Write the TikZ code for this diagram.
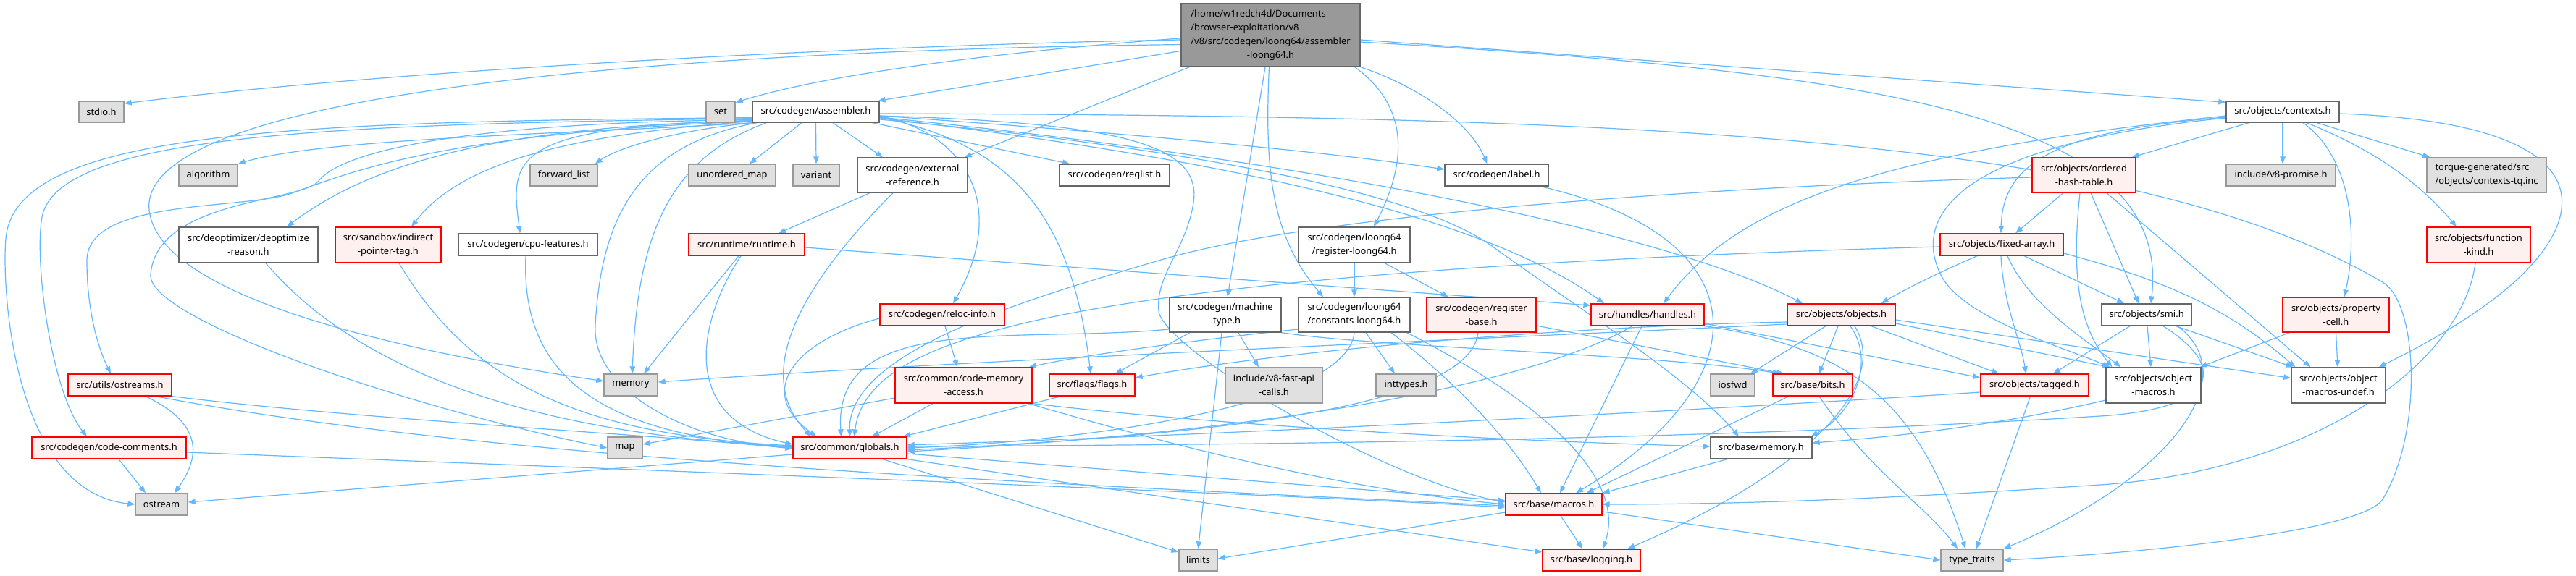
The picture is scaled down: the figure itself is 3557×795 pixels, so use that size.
\documentclass[tikz,border=0pt]{standalone}
\usepackage{fontspec}
\newfontfamily\nodefont{Noto Sans}
\usetikzlibrary{arrows.meta}
\pgfdeclarelayer{edgelayer}
\pgfsetlayers{edgelayer,main}
\definecolor{edgeblue}{HTML}{63B8FF}
\definecolor{wborder}{HTML}{666666}
\definecolor{rborder}{HTML}{FF0000}
\definecolor{rfill}{HTML}{FFF0F0}
\definecolor{gborder}{HTML}{999999}
\definecolor{gfill}{HTML}{E0E0E0}
\definecolor{tfill}{HTML}{999999}
\tikzset{
  box/.style={rectangle, inner sep=0pt, line width=1.3pt, align=center, font=\nodefont\fontsize{12.9}{19}\selectfont, text=black},
  wn/.style={box, draw=wborder, fill=white},
  rn/.style={box, draw=rborder, fill=rfill},
  gn/.style={box, draw=gborder, fill=gfill},
  tn/.style={box, draw=wborder, fill=tfill},
  dep/.style={draw=edgeblue, line width=1.2pt, -{Triangle[length=10pt,width=7.5pt]}},
}
\begin{document}
\begin{tikzpicture}[x=1pt,y=1pt]
\useasboundingbox (0,0) rectangle (3557,-795);
% nodes
\node[tn, minimum width=247, minimum height=87] (T) at (1754.5,-48.5) {\begin{tabular}{@{}l@{}}/home/w1redch4d/Documents\\/browser-exploitation/v8\\/v8/src/codegen/loong64/assembler\\\multicolumn{1}{@{}c@{}}{-loong64.h}\end{tabular}};
\node[gn, minimum width=62, minimum height=29] (stdio) at (140,-154.5) {stdio.h};
\node[gn, minimum width=40, minimum height=29] (set) at (995,-154.5) {set};
\node[wn, minimum width=175, minimum height=29] (asm) at (1126.5,-154.5) {src/codegen/assembler.h};
\node[wn, minimum width=156, minimum height=29] (contexts) at (3152,-154.5) {src/objects/contexts.h};
\node[gn, minimum width=81, minimum height=30] (algorithm) at (287.5,-242) {algorithm};
\node[gn, minimum width=93, minimum height=30] (fwdlist) at (778.5,-242) {forward\_list};
\node[gn, minimum width=120, minimum height=30] (umap) at (1011,-242) {unordered\_map};
\node[gn, minimum width=64, minimum height=30] (variant) at (1127,-242) {variant};
\node[wn, minimum width=152, minimum height=48] (extref) at (1260,-242) {src/codegen/external\\-reference.h};
\node[wn, minimum width=152, minimum height=30] (reglist) at (1539,-242) {src/codegen/reglist.h};
\node[wn, minimum width=143, minimum height=30] (label) at (2066.5,-242) {src/codegen/label.h};
\node[rn, minimum width=143, minimum height=48] (ordered) at (2877.5,-242) {src/objects/ordered\\-hash-table.h};
\node[gn, minimum width=151, minimum height=30] (promise) at (3149.5,-242) {include/v8-promise.h};
\node[gn, minimum width=165, minimum height=48, align=left] (torque) at (3433.5,-242) {torque-generated/src\\/objects/contexts-tq.inc};
\node[wn, minimum width=192, minimum height=49] (deopt) at (343,-338.5) {src/deoptimizer/deoptimize\\-reason.h};
\node[rn, minimum width=146, minimum height=49] (indirect) at (536,-338.5) {src/sandbox/indirect\\-pointer-tag.h};
\node[wn, minimum width=192, minimum height=30] (cpu) at (729,-338) {src/codegen/cpu-features.h};
\node[rn, minimum width=160, minimum height=30] (runtime) at (1031,-338) {src/runtime/runtime.h};
\node[wn, minimum width=154, minimum height=49] (regloong) at (1870,-338.5) {src/codegen/loong64\\/register-loong64.h};
\node[rn, minimum width=170, minimum height=30] (fixedarr) at (2764,-338) {src/objects/fixed-array.h};
\node[rn, minimum width=143, minimum height=49] (funckind) at (3422.5,-338.5) {src/objects/function\\-kind.h};
\node[rn, minimum width=172, minimum height=30] (reloc) at (1301,-435) {src/codegen/reloc-info.h};
\node[wn, minimum width=154, minimum height=48] (machtype) at (1692,-435) {src/codegen/machine\\-type.h};
\node[wn, minimum width=154, minimum height=48] (constloong) at (1870,-435) {src/codegen/loong64\\/constants-loong64.h};
\node[rn, minimum width=151, minimum height=48] (regbase) at (2045.5,-435) {src/codegen/register\\-base.h};
\node[rn, minimum width=156, minimum height=30] (handles) at (2275,-435) {src/handles/handles.h};
\node[rn, minimum width=149, minimum height=30] (objects) at (2542.5,-435) {src/objects/objects.h};
\node[wn, minimum width=124, minimum height=30] (smi) at (2964,-435) {src/objects/smi.h};
\node[rn, minimum width=147, minimum height=48] (propcell) at (3225.5,-435) {src/objects/property\\-cell.h};
\node[rn, minimum width=143, minimum height=30] (ostreams) at (165.5,-532) {src/utils/ostreams.h};
\node[gn, minimum width=74, minimum height=30] (memory) at (871,-532) {memory};
\node[rn, minimum width=189, minimum height=49] (cma) at (1330.5,-532.5) {src/common/code-memory\\-access.h};
\node[rn, minimum width=118, minimum height=30] (flags) at (1508,-532) {src/flags/flags.h};
\node[gn, minimum width=134, minimum height=49] (fastapi) at (1759,-532.5) {include/v8-fast-api\\-calls.h};
\node[gn, minimum width=83, minimum height=30] (inttypes) at (1941.5,-532) {inttypes.h};
\node[gn, minimum width=61, minimum height=30] (iosfwd) at (2392.5,-532) {iosfwd};
\node[rn, minimum width=110, minimum height=30] (bits) at (2503,-532) {src/base/bits.h};
\node[rn, minimum width=149, minimum height=30] (tagged) at (2809.5,-532) {src/objects/tagged.h};
\node[wn, minimum width=131, minimum height=49] (objmacros) at (2973.5,-532.5) {src/objects/object\\-macros.h};
\node[wn, minimum width=130, minimum height=49] (objundef) at (3229,-532.5) {src/objects/object\\-macros-undef.h};
\node[rn, minimum width=213, minimum height=30] (codecomm) at (150.5,-619) {src/codegen/code-comments.h};
\node[gn, minimum width=48, minimum height=30] (map) at (863,-619) {map};
\node[rn, minimum width=157, minimum height=30] (globals) at (1173.5,-619) {src/common/globals.h};
\node[wn, minimum width=140, minimum height=30] (basemem) at (2432,-619) {src/base/memory.h};
\node[gn, minimum width=72, minimum height=30] (ostream) at (223,-697) {ostream};
\node[rn, minimum width=133, minimum height=30] (macros) at (2145.5,-697) {src/base/macros.h};
\node[gn, minimum width=53, minimum height=30] (limits) at (1654.5,-774) {limits};
\node[rn, minimum width=135, minimum height=30] (logging) at (2197.5,-774) {src/base/logging.h};
\node[gn, minimum width=86, minimum height=30] (typetraits) at (2723,-774) {type\_traits};
\begin{pgfonlayer}{edgelayer}
\fill[white] (0,0) rectangle (3557,-795);
% T edges
\draw[dep] (T.183) .. controls (1300,-60) and (600,-90) .. (stdio.20);
\draw[dep] (T.182) .. controls (1400,-70) and (1150,-100) .. (set.32);
\draw[dep] (T.190) -- (asm.10);
\draw[dep] (T.186) .. controls (900,-70) and (190,-130) .. (206,-290) .. controls (216,-390) and (450,-470) .. (memory.172);
\draw[dep] ([xshift=12]T.south west) -- ([xshift=-5]extref.north east);
\draw[dep] ([xshift=-7.5]T.south) -- ([xshift=3]machtype.north);
\draw[dep] ([xshift=-2]T.south) .. controls (1745,-250) and (1760,-330) .. ([xshift=-43]constloong.north);
\draw[dep] ([xshift=-8]T.south east) .. controls (1950,-150) and (1940,-230) .. ([xshift=27]regloong.north);
\draw[dep] (T.south east) .. controls (1960,-120) and (2030,-170) .. ([xshift=-13]label.north);
\draw[dep] ([yshift=-6.5]T.east) -- ([yshift=-2]contexts.north west);
\draw[dep] ([yshift=-9.5]T.east) .. controls (2600,-100) and (3000,-160) .. ([xshift=6]smi.north);
% assembler.h edges
\draw[dep] (asm.south west) .. controls (800,-185) and (450,-190) .. (algorithm.north east);
\draw[dep] ([xshift=2]asm.south west) .. controls (950,-178) and (860,-200) .. ([xshift=-4]fwdlist.north east);
\draw[dep] ([xshift=-19.5]asm.south) -- ([xshift=24]umap.north);
\draw[dep] (asm.south) -- (variant.north);
\draw[dep] ([xshift=23.5]asm.south) -- ([xshift=-41]extref.north);
\draw[dep] ([xshift=-10]asm.south east) -- ([xshift=-62]reglist.north);
\draw[dep] ([yshift=-5.5]asm.east) .. controls (1500,-180) and (1800,-205) .. ([yshift=8]label.west);
\draw[dep] ([yshift=3]asm.south west) .. controls (700,-175) and (705,-220) .. ([xshift=-11]cpu.north);
\draw[dep] ([yshift=2]asm.south west) .. controls (800,-185) and (640,-220) .. ([xshift=32]indirect.north);
\draw[dep] ([yshift=3]asm.south west) .. controls (700,-175) and (520,-220) .. ([xshift=53]deopt.north);
\draw[dep] ([yshift=2]asm.south west) .. controls (600,-185) and (480,-240) .. (400,-268) .. controls (330,-290) and (120,-275) .. (120,-360) .. controls (120,-440) and (140,-490) .. ([xshift=-12.5]ostreams.north);
\draw[dep] ([yshift=4]asm.south west) .. controls (700,-168) and (480,-200) .. (440,-250) .. controls (416,-280) and (215,-275) .. (208,-380) .. controls (204,-440) and (550,-560) .. (map.west);
\draw[dep] ([yshift=6]asm.south west) .. controls (500,-172) and (80,-180) .. (58,-300) .. controls (47,-360) and (70,-540) .. ([xshift=-30.5]codecomm.north);
\draw[dep] ([yshift=7]asm.south west) .. controls (400,-168) and (20,-180) .. (8,-330) .. controls (2,-405) and (20,-680) .. (ostream.west);
\draw[dep] ([xshift=20]asm.south west) .. controls (920,-220) and (880,-330) .. ([xshift=2]memory.north);
\draw[dep] ([xshift=7]asm.south west) .. controls (880,-200) and (830,-300) .. (822,-450) .. controls (817,-540) and (950,-610) .. (globals.west);
\draw[dep] ([yshift=-6]asm.east) .. controls (1340,-185) and (1390,-290) .. ([xshift=15]reloc.north);
\draw[dep] ([yshift=-7.5]asm.east) .. controls (1400,-200) and (1480,-300) .. ([xshift=-2]flags.north);
\draw[dep] ([yshift=-8.5]asm.east) .. controls (1700,-220) and (2050,-300) .. ([xshift=-60]handles.north);
\draw[dep] ([yshift=-7.5]asm.east) .. controls (1800,-220) and (2300,-320) .. ([xshift=-53.5]objects.north);
\draw[dep] ([yshift=-5.5]asm.east) .. controls (1550,-170) and (1660,-200) .. (1648,-280) .. controls (1638,-345) and (1595,-380) .. (1600,-430) .. controls (1605,-480) and (1900,-660) .. ([yshift=3]macros.west);
\draw[dep] ([yshift=-10.5]asm.east) .. controls (1600,-200) and (1950,-260) .. (2060,-340) .. controls (2170,-420) and (2330,-520) .. ([xshift=-31]basemem.north);
\draw[dep] ([yshift=-2.5]asm.east) .. controls (2300,-160) and (2950,-190) .. (3290,-390) .. controls (3340,-420) and (3345,-600) .. (3290,-690) .. controls (3262,-735) and (2950,-765) .. (typetraits.east);
% external-reference
\draw[dep] ([xshift=-59]extref.south) -- ([xshift=44]runtime.north);
\draw[dep] ([xshift=-27]extref.south) .. controls (1100,-400) and (1040,-520) .. ([xshift=-53.5]globals.north);
% runtime
\draw[dep] ([xshift=-11]runtime.south) -- ([xshift=18]memory.north);
\draw[dep] ([xshift=-8]runtime.south) .. controls (960,-450) and (940,-580) .. ([yshift=5]globals.west);
\draw[dep] ([yshift=-4]runtime.east) -- ([yshift=13]handles.west);
% deopt, indirect, cpu
\draw[dep] ([xshift=24]deopt.south) .. controls (500,-520) and (750,-600) .. ([yshift=2]globals.west);
\draw[dep] ([xshift=15]indirect.south) .. controls (650,-530) and (800,-600) .. ([yshift=3]globals.west);
\draw[dep] ([xshift=-3]cpu.south) .. controls (720,-500) and (800,-600) .. ([yshift=1]globals.west);
% ostreams
\draw[dep] ([xshift=35.5]ostreams.south) .. controls (290,-590) and (270,-640) .. ([xshift=18]ostream.north);
\draw[dep] (ostreams.south east) .. controls (500,-580) and (900,-600) .. ([yshift=-1]globals.west);
\draw[dep] ([xshift=49.5]ostreams.south) .. controls (700,-640) and (1500,-670) .. ([yshift=-2]macros.west);
% code-comments
\draw[dep] ([xshift=13.5]codecomm.south) -- ([xshift=-22]ostream.north);
\draw[dep] ([yshift=-6]codecomm.east) .. controls (900,-650) and (1700,-680) .. ([yshift=-4]macros.west);
% reloc-info
\draw[dep] ([xshift=4]reloc.south) -- ([xshift=-8.5]cma.north);
\draw[dep] ([yshift=-5]reloc.west) .. controls (1100,-470) and (1040,-540) .. ([xshift=-46]globals.north);
% code-memory-access
\draw[dep] ([yshift=-17.5]cma.west) -- ([yshift=5]map.east);
\draw[dep] ([xshift=-42.5]cma.south) -- ([xshift=30.5]globals.north);
\draw[dep] (cma.south east) .. controls (1700,-590) and (2100,-610) .. ([yshift=2]basemem.west);
\draw[dep] ([xshift=-5]cma.south east) .. controls (1700,-640) and (1900,-680) .. (macros.west);
% flags
\draw[dep] ([xshift=-43]flags.south) -- ([xshift=73.5]globals.north);
% machine-type
\draw[dep] ([xshift=-49]machtype.south) -- ([xshift=32]flags.north);
\draw[dep] ([xshift=-5]machtype.south) -- (limits.north);
\draw[dep] ([xshift=18]machtype.south) -- ([xshift=-21]fastapi.north);
\draw[dep] ([yshift=-20]machtype.west) .. controls (1400,-475) and (1150,-430) .. ([xshift=-12]globals.north);
\draw[dep] (machtype.south east) .. controls (1900,-480) and (2300,-490) .. ([xshift=-45]bits.north);
% constants-loong64
\draw[dep] ([xshift=16]constloong.south) -- ([xshift=-15.5]inttypes.north);
\draw[dep] ([xshift=51]constloong.south) .. controls (2000,-520) and (2080,-600) .. ([xshift=-17.5]macros.north);
\draw[dep] ([xshift=-5]constloong.south east) .. controls (2100,-540) and (2250,-650) .. ([xshift=16]logging.north);
\draw[dep] (constloong.south) .. controls (1860,-560) and (1500,-610) .. (globals.east);
\draw[dep] ([yshift=-20]constloong.west) .. controls (1650,-470) and (1500,-490) .. ([xshift=-5]cma.north east);
% register-loong64
\draw[dep] (regloong.south) -- (constloong.north);
\draw[dep] ([xshift=42]regloong.south) -- ([xshift=-45.5]regbase.north);
% register-base
\draw[dep] ([yshift=-15]regbase.east) -- ([xshift=-40]bits.north);
\draw[dep] ([xshift=-4.5]regbase.south) .. controls (2030,-560) and (1700,-600) .. ([yshift=-3]globals.east);
% label
\draw[dep] ([xshift=-11.5]label.south east) .. controls (2440,-330) and (2430,-530) .. ([xshift=30.5]macros.north);
% handles
\draw[dep] ([xshift=-8]handles.south) -- ([xshift=8.5]macros.north);
\draw[dep] ([xshift=-21]handles.south) .. controls (2100,-540) and (1700,-600) .. ([yshift=-5]globals.east);
\draw[dep] ([yshift=-12]handles.east) -- ([yshift=10]tagged.west);
\draw[dep] (handles.south east) .. controls (2560,-480) and (2650,-560) .. ([xshift=-9]typetraits.north);
% objects
\draw[dep] ([xshift=-21.5]objects.south) -- ([xshift=24.5]iosfwd.north);
\draw[dep] ([xshift=-4.5]objects.south) -- ([xshift=9]bits.north);
\draw[dep] ([xshift=12.5]objects.south) .. controls (2590,-500) and (2560,-570) .. ([xshift=-2]basemem.north east);
\draw[dep] ([xshift=18.5]objects.south) .. controls (2610,-530) and (2500,-650) .. ([xshift=50]logging.north);
\draw[dep] ([xshift=41.5]objects.south) -- ([xshift=-49.5]tagged.north);
\draw[dep] ([yshift=-12]objects.east) -- ([xshift=5]objmacros.north west);
\draw[dep] ([yshift=-7]objects.east) -- ([yshift=10]objundef.west);
\draw[dep] ([yshift=-10]objects.west) .. controls (2200,-450) and (1800,-480) .. ([yshift=10]flags.east);
\draw[dep] ([yshift=-13]objects.west) .. controls (2000,-470) and (1300,-500) .. ([yshift=4]memory.east);
% fixed-array
\draw[dep] ([xshift=-34]fixedarr.south) .. controls (2670,-380) and (2630,-400) .. ([xshift=-20]objects.north east);
\draw[dep] ([xshift=-1]fixedarr.south) .. controls (2766,-420) and (2790,-470) .. ([xshift=-12]tagged.north);
\draw[dep] ([xshift=8]fixedarr.south) .. controls (2800,-420) and (2880,-470) .. ([xshift=-45]objmacros.north);
\draw[dep] ([xshift=31]fixedarr.south) -- ([xshift=-31]smi.north);
\draw[dep] ([yshift=-12]fixedarr.east) .. controls (3000,-390) and (3080,-430) .. ([xshift=6]objundef.north west);
\draw[dep] ([yshift=-3]fixedarr.west) .. controls (2000,-360) and (1600,-400) .. (1400,-450) .. controls (1280,-480) and (1190,-520) .. ([xshift=6]globals.north);
% ordered-hash-table
\draw[dep] ([xshift=-28.5]ordered.south) -- ([xshift=19]fixedarr.north);
\draw[dep] ([xshift=9.5]ordered.south) -- ([xshift=-11]smi.north);
\draw[dep] ([xshift=-5.5]ordered.south) .. controls (2860,-380) and (2870,-450) .. ([xshift=-57]objmacros.north);
\draw[dep] ([xshift=31.5]ordered.south) -- ([xshift=27]objundef.north west);
\draw[dep] ([yshift=-3]ordered.west) .. controls (2300,-260) and (1800,-300) .. (1600,-360) .. controls (1450,-405) and (1170,-480) .. (globals.north);
% contexts
\draw[dep] ([xshift=-47]contexts.south) -- ([xshift=-6]ordered.north east);
\draw[dep] (contexts.south) -- ([xshift=2.5]promise.north);
\draw[dep] ([xshift=47]contexts.south) -- ([xshift=5]torque.north west);
\draw[dep] ([xshift=33]contexts.south) .. controls (3260,-200) and (3330,-240) .. ([xshift=-30.5]funckind.north);
\draw[dep] ([xshift=28]contexts.south) .. controls (3250,-220) and (3255,-330) .. ([xshift=11.5]propcell.north);
\draw[dep] ([yshift=-2.5]contexts.east) .. controls (3600,-170) and (3580,-300) .. (3460,-400) .. controls (3400,-450) and (3320,-490) .. ([xshift=-10]objundef.north east);
\draw[dep] ([yshift=-7.5]contexts.west) .. controls (2850,-180) and (2765,-220) .. ([xshift=-1]fixedarr.north);
\draw[dep] ([yshift=-8.5]contexts.west) .. controls (2700,-200) and (2640,-300) .. (2680,-380) .. controls (2710,-440) and (2850,-480) .. ([xshift=-60]objmacros.north);
\draw[dep] ([yshift=-5.5]contexts.west) .. controls (2600,-210) and (2400,-280) .. ([xshift=22]handles.north);
% smi
\draw[dep] ([xshift=-23]smi.south) -- ([xshift=25.5]tagged.north);
\draw[dep] ([xshift=1]smi.south) -- ([xshift=-3.5]objmacros.north);
\draw[dep] ([xshift=-22]smi.south east) -- ([xshift=3]objundef.north west);
\draw[dep] ([xshift=23]smi.south) .. controls (3080,-510) and (3060,-565) .. (2900,-575) .. controls (2300,-612) and (1600,-615) .. ([yshift=2]globals.east);
\draw[dep] ([xshift=43]smi.south) .. controls (3100,-520) and (3000,-660) .. (typetraits.north east);
% property-cell, function-kind
\draw[dep] ([xshift=10]propcell.south west) -- ([xshift=-2]objmacros.north east);
\draw[dep] (propcell.south) -- ([xshift=-1]objundef.north);
\draw[dep] ([xshift=-4.5]funckind.south) .. controls (3400,-500) and (3200,-650) .. (2900,-670) .. controls (2600,-690) and (2400,-697) .. (macros.east);
% tagged
\draw[dep] ([xshift=-6]tagged.south) -- ([xshift=6]typetraits.north);
\draw[dep] ([yshift=-10]tagged.west) .. controls (2300,-570) and (1700,-600) .. ([yshift=4]globals.east);
% object-macros
\draw[dep] ([yshift=-20.5]objmacros.west) .. controls (2750,-590) and (2600,-605) .. ([yshift=7]basemem.east);
% bits
\draw[dep] ([xshift=-33]bits.south) -- ([xshift=45]macros.north);
\draw[dep] ([xshift=9]bits.south) .. controls (2580,-650) and (2660,-700) .. ([xshift=-20]typetraits.north);
% base memory
\draw[dep] ([xshift=-47]basemem.south) -- (macros.north east);
% macros
\draw[dep] ([xshift=9.5]macros.south) -- ([xshift=-12.5]logging.north);
\draw[dep] ([yshift=-11]macros.west) -- ([yshift=2]limits.east);
\draw[dep] ([yshift=-10]macros.east) -- (typetraits.west);
% globals
\draw[dep] ([yshift=-9]globals.west) -- ([yshift=3]ostream.east);
\draw[dep] ([xshift=45.5]globals.south) -- ([yshift=11]limits.west);
\draw[dep] ([yshift=-8]globals.east) -- ([yshift=5]macros.west);
\draw[dep] (globals.south east) -- ([yshift=11]logging.west);
\end{pgfonlayer}
\end{tikzpicture}
\end{document}
